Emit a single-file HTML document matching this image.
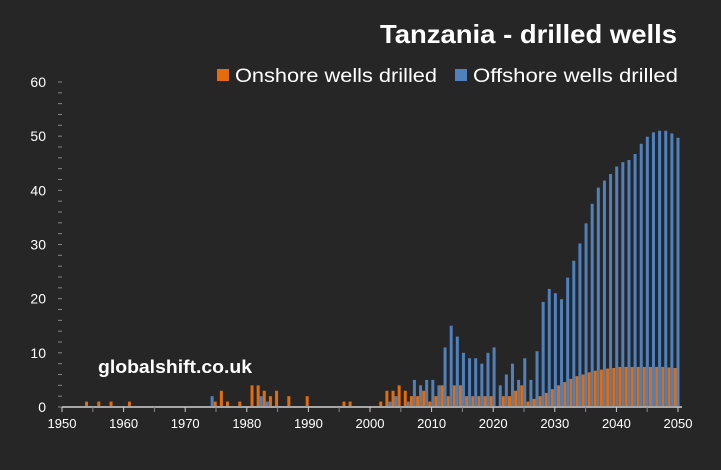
<!DOCTYPE html>
<html><head><meta charset="utf-8"><style>
html,body{margin:0;padding:0;background:#262626;}
svg{display:block;font-family:"Liberation Sans",sans-serif;}
</style></head><body>
<svg id="c" width="721" height="470" viewBox="0 0 721 470" xmlns="http://www.w3.org/2000/svg">
<rect width="721" height="470" fill="#262626"/>
<text x="380" y="43" textLength="297" lengthAdjust="spacingAndGlyphs" fill="#fff" font-size="26" font-weight="bold">Tanzania - drilled wells</text>
<rect x="217" y="69" width="12" height="12" fill="#e46c0a"/>
<text x="235" y="82" textLength="202" lengthAdjust="spacingAndGlyphs" fill="#fff" font-size="19">Onshore wells drilled</text>
<rect x="455" y="69" width="12" height="12" fill="#4f81bd"/>
<text x="473" y="82" textLength="205" lengthAdjust="spacingAndGlyphs" fill="#fff" font-size="19">Offshore wells drilled</text>
<text x="98" y="373" textLength="154" lengthAdjust="spacingAndGlyphs" fill="#fff" font-size="18" font-weight="bold">globalshift.co.uk</text>
<g id="g"></g>
</svg>
<script>
var g=document.getElementById('g'),h='';
function Y(v){return 407-v*5.417;}
for(var v=0;v<=60;v+=10){h+='<text x="46" y="'+(Y(v)+5)+'" text-anchor="end" fill="#fff" font-size="14">'+v+'</text>';}
for(var v=0;v<=60;v+=2){h+='<line x1="58" x2="62" y1="'+Y(v)+'" y2="'+Y(v)+'" stroke="#888" stroke-width="1"/>';}
var on={1954:1,1956:1,1958:1,1961:1,1975:1,1976:3,1977:1,1979:1,1981:4,1982:4,1983:3,1984:2,1985:3,1987:2,1990:2,1996:1,1997:1,
2002:1,2003:3,2004:3,2005:4,2006:3,2007:2,2008:2,2009:3,2010:1,2011:2,2012:4,2013:2,2014:4,2015:4,2016:2,2017:2,2018:2,2019:2,2020:2,
2022:2,2023:2,2024:3,2025:4,2026:1,2027:1.5,2028:2,2029:2.6,2030:3.3,2031:4,2032:4.6,2033:5.2,2034:5.7,2035:6,2036:6.4,2037:6.7,2038:6.9,2039:7.1,2040:7.2,
2041:7.4,2042:7.4,2043:7.4,2044:7.4,2045:7.4,2046:7.4,2047:7.4,2048:7.4,2049:7.3,2050:7.2};
var off={1974:2,1982:2,1983:1,2003:1,2004:2,2006:1,2007:5,2008:4,2009:5,2010:5,2011:4,2012:11,2013:15,2014:13,2015:10,2016:9,2017:9,2018:8,2019:10,2020:11,
2021:4,2022:6,2023:8,2024:5,2025:9,2026:5,2027:10.3,2028:19.4,2029:21.8,2030:21,2031:19.9,2032:23.9,2033:27,2034:30.2,2035:33.9,2036:37.5,2037:40.5,2038:41.8,
2039:43,2040:44.4,2041:45.2,2042:45.6,2043:46.7,2044:48.6,2045:49.9,2046:50.7,2047:51,2048:51,2049:50.5,2050:49.7};
for(var y=1950;y<=2050;y++){
 var c=62+(y-1950)*6.13+1.5;
 if(on[y]){h+='<rect x="'+(c-3)+'" y="'+Y(on[y])+'" width="3" height="'+(on[y]*5.417)+'" fill="#e46c0a"/>';}
 if(off[y]){h+='<rect x="'+c+'" y="'+Y(off[y])+'" width="3" height="'+(off[y]*5.417)+'" fill="#4f81bd"/>';}
}
h+='<line x1="62" x2="682" y1="407" y2="407" stroke="#a6a6a6" stroke-width="2"/>';
for(var y=1950;y<=2050;y+=5){var x=62+(y-1950)*6.16;h+='<line x1="'+x+'" x2="'+x+'" y1="407" y2="412" stroke="'+(y%10==0?'#ccc':'#888')+'" stroke-width="1"/>';
 if(y%10==0)h+='<text x="'+x+'" y="428" text-anchor="middle" fill="#fff" font-size="13">'+y+'</text>';}
g.innerHTML=h;
</script>
</body></html>
